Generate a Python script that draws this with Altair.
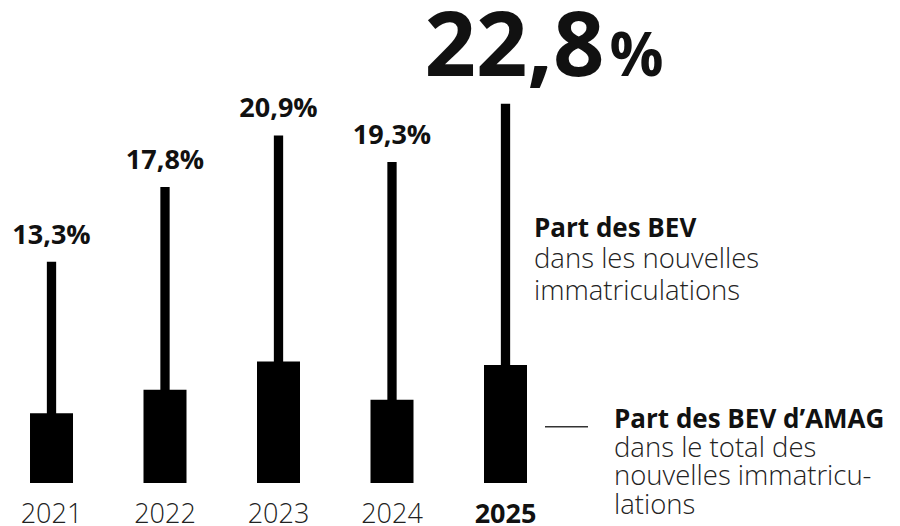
import altair as alt
import pandas as pd

years = [2021, 2022, 2023, 2024, 2025]
bev_share = [13.3, 17.8, 20.9, 19.3, 22.8]      # Part des BEV dans les nouvelles immatriculations
amag_share = [4.2, 5.6, 7.3, 5.0, 7.1]          # Part des BEV d'AMAG dans le total
year_labels = ["2021", "2022", "2023", "2024", "2025"]
highlight = [False, False, False, False, True]

def fmt(v):
    return f"{v:.1f}".replace(".", ",") + "%"

df = pd.DataFrame({
    "year": years,
    "bev": bev_share,
    "amag": amag_share,
    "ylabel": year_labels,
    "hl": highlight,
    "vlabel": [fmt(v) for v in bev_share],
    "big": [f"{v:.1f}".replace(".", ",") for v in bev_share],
})

legend1 = ["Part des BEV", "dans les nouvelles", "immatriculations"]
legend2 = ["Part des BEV d\u2019AMAG", "dans le total des", "nouvelles immatricu-", "lations"]

FONT = "Open Sans"
W, H = 884, 518

xs = alt.Scale(domain=[2020.6167, 2028.4053], padding=0, nice=False, zero=False)
ys = alt.Scale(domain=[-2.586, 28.563], nice=False)
X = alt.X("year:Q", scale=xs, axis=None)
Ybev = alt.Y("bev:Q", scale=ys, axis=None)

base = alt.Chart(df)

thin = base.mark_bar(size=9.3, color="black").encode(x=X, y=Ybev, y2=alt.datum(0))
thick = base.mark_bar(size=43, color="black").encode(
    x=X, y=alt.Y("amag:Q", scale=ys, axis=None), y2=alt.datum(0)
)

small_lbl = base.transform_filter("!datum.hl").mark_text(
    font=FONT, fontWeight="bold", fontSize=27, baseline="alphabetic", dy=-18, color="#111"
).encode(x=X, y=Ybev, text="vlabel:N")

big_num = base.transform_filter("datum.hl").mark_text(
    font=FONT, fontWeight="bold", fontSize=90, baseline="alphabetic", align="right",
    dx=99, dy=-27.5, color="#111"
).encode(x=X, y=Ybev, text="big:N")

big_pct = base.transform_filter("datum.hl").mark_text(
    font=FONT, fontWeight="bold", fontSize=60, baseline="alphabetic", align="left",
    dx=104, dy=-27.5, color="#111", text="%"
).encode(x=X, y=Ybev)

year_reg = base.transform_filter("!datum.hl").mark_text(
    font=FONT, fontSize=27, fontWeight=300, baseline="alphabetic", color="#222"
).encode(x=X, y=alt.value(515), text="ylabel:N")
year_bold = base.transform_filter("datum.hl").mark_text(
    font=FONT, fontSize=27, fontWeight="bold", baseline="alphabetic", color="#111"
).encode(x=X, y=alt.value(515), text="ylabel:N")


def legend_block(lines, x, y_first, step):
    d = pd.DataFrame({"t": lines, "i": list(range(len(lines)))})
    ysc = alt.Scale(domain=[0, len(lines) - 1], range=[y_first, y_first + step * (len(lines) - 1)], nice=False, zero=False)
    head = alt.Chart(d).transform_filter("datum.i == 0").mark_text(
        font=FONT, fontSize=26, fontWeight="bold", baseline="alphabetic", align="left", color="#111", x=x
    ).encode(y=alt.Y("i:Q", scale=ysc, axis=None), text="t:N")
    rest = alt.Chart(d).transform_filter("datum.i > 0").mark_text(
        font=FONT, fontSize=27.5, fontWeight=300, baseline="alphabetic", align="left", color="#222", x=x
    ).encode(y=alt.Y("i:Q", scale=ysc, axis=None), text="t:N")
    return [head, rest]

leg1 = legend_block(legend1, 526, 228.7, 31.6)
leg2 = legend_block(legend2, 606, 420, 28.7)

leader = alt.Chart(pd.DataFrame({"a": [0]})).mark_rule(color="#333", strokeWidth=1.5).encode(
    x=alt.value(537), x2=alt.value(580), y=alt.value(418.7)
)

chart = alt.layer(
    thin, thick, small_lbl, big_num, big_pct, year_reg, year_bold, *leg1, *leg2, leader
).resolve_scale(y="independent").properties(
    width=W, height=H, autosize=alt.AutoSizeParams(type="none"), padding=0
).configure_view(stroke=None)

chart.save("out.html", embed_options={"renderer": "svg", "actions": False})
